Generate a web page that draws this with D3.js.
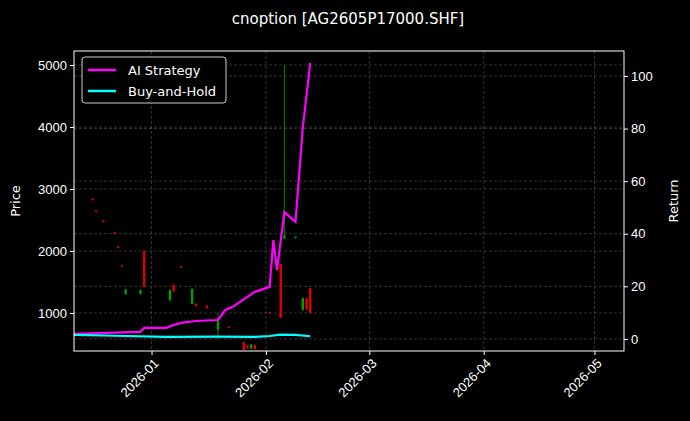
<!DOCTYPE html>
<html>
<head>
<meta charset="utf-8">
<script src="https://cdn.jsdelivr.net/npm/d3@7"></script>
<style>
  body { margin: 0; background: #000; }
  svg { font-family: "DejaVu Sans", sans-serif; }
</style>
</head>
<body>
<svg id="chart" width="690" height="421"></svg>
<script>
// candles: date, open, high, low, close
var candleDates = ["2025-12-16","2025-12-17","2025-12-19","2025-12-22","2025-12-23","2025-12-24","2025-12-25","2025-12-29","2025-12-30",
  "2026-01-06","2026-01-07","2026-01-09","2026-01-12","2026-01-13","2026-01-16","2026-01-19","2026-01-22","2026-01-26","2026-01-27",
  "2026-01-28","2026-01-29","2026-02-02","2026-02-05","2026-02-06","2026-02-09","2026-02-11","2026-02-12","2026-02-13"]
var opens  = [2840,2650,2490,2300,2070,1770,1310,1310,2000,1210,1450,1750,1145,1150,1120, 730, 780, 530, 480, 430, 480,1010,1790,2200,2210,1050,1240,1400]
var highs  = [2850,2660,2500,2310,2080,1780,1390,1380,2000,1380,1460,1760,1390,1160,1130,1010, 790, 540, 490, 500, 490,1020,1790,5000,2240,1240,1250,1400]
var lows   = [2810,2620,2460,2270,2040,1740,1290,1290,1420,1180,1340,1720,1140,1100,1070, 570, 750, 400, 420, 420, 410, 990, 920,2190,2200,1040,1050,1000]
var closes = [2820,2630,2470,2280,2050,1750,1380,1370,1420,1370,1350,1730,1390,1110,1080, 920, 760, 400, 440, 490, 420,1000, 920,2250,2230,1240,1060,1000]

// return lines
var stratDates = ["2025-12-11","2025-12-29","2025-12-30","2026-01-05","2026-01-07","2026-01-09","2026-01-13","2026-01-19","2026-01-21",
  "2026-01-23","2026-01-27","2026-01-29","2026-02-02","2026-02-03","2026-02-04","2026-02-06","2026-02-09","2026-02-11","2026-02-13"]
var stratValues = [1.9,2.7,4.2,4.2,5.3,6.1,6.8,7.2,11,12.2,16,17.9,19.8,37.6,26.2,48.3,44.5,80.6,105]
var bhDates = ["2025-12-11","2025-12-22","2026-01-05","2026-01-19","2026-01-29","2026-02-02","2026-02-05","2026-02-09","2026-02-13"]
var bhValues = [1.5,1.2,0.8,0.9,0.8,1.1,1.6,1.5,1.0]

var priceTicks = [1000,2000,3000,4000,5000]
var returnTicks = [0,20,40,60,80,100]

var margin = {top: 51, right: 66, bottom: 70, left: 74},
    width = 690 - margin.left - margin.right,
    height = 421 - margin.top - margin.bottom;

var parse = d3.timeParse("%Y-%m-%d");
var svg = d3.select("#chart");
svg.append("rect").attr("width", 690).attr("height", 421).attr("fill", "#000");
var g = svg.append("g").attr("transform", "translate(" + margin.left + "," + margin.top + ")");

var x = d3.scaleTime().domain([parse("2025-12-11"), parse("2026-05-09")]).range([0, width]);
var y = d3.scaleLinear().domain([387, 5226]).range([height, 0]);
var y2 = d3.scaleLinear().domain([-4.6, 109.5]).range([height, 0]);

var months = ["2026-01-01","2026-02-01","2026-03-01","2026-04-01","2026-05-01"].map(parse);

// grid
var gridStyle = function(sel) { sel.attr("stroke", "#555").attr("stroke-width", 0.6).attr("stroke-dasharray", "3,2"); };
g.append("g").selectAll("line").data(months).enter().append("line")
  .attr("x1", d => x(d)).attr("x2", d => x(d)).attr("y1", 0).attr("y2", height).call(gridStyle);
g.append("g").selectAll("line").data(priceTicks).enter().append("line")
  .attr("x1", 0).attr("x2", width).attr("y1", d => y(d)).attr("y2", d => y(d)).call(gridStyle);
g.append("g").selectAll("line").data(returnTicks).enter().append("line")
  .attr("x1", 0).attr("x2", width).attr("y1", d => y2(d)).attr("y2", d => y2(d)).call(gridStyle);

// candles
var candles = candleDates.map((d, i) => ({date: parse(d), o: opens[i], h: highs[i], l: lows[i], c: closes[i]}));
var colorOf = d => d.c >= d.o ? "#00a000" : "#e00000";
g.append("g").selectAll("line").data(candles).enter().append("line")
  .attr("x1", d => x(d.date)).attr("x2", d => x(d.date))
  .attr("y1", d => y(d.h)).attr("y2", d => y(d.l))
  .attr("stroke", colorOf).attr("stroke-width", 0.8);
g.append("g").selectAll("rect").data(candles).enter().append("rect")
  .attr("x", d => x(d.date) - 1.2).attr("width", 2.4)
  .attr("y", d => y(Math.max(d.o, d.c)))
  .attr("height", d => Math.max(1, Math.abs(y(d.o) - y(d.c))))
  .attr("fill", colorOf);

// lines
var line = d3.line().x(d => x(d[0])).y(d => y2(d[1]));
g.append("path").datum(stratDates.map((d, i) => [parse(d), stratValues[i]]))
  .attr("d", line).attr("fill", "none").attr("stroke", "#ff00ff").attr("stroke-width", 2.2);
g.append("path").datum(bhDates.map((d, i) => [parse(d), bhValues[i]]))
  .attr("d", line).attr("fill", "none").attr("stroke", "#00ffff").attr("stroke-width", 2.2);

// frame + axes
g.append("rect").attr("width", width).attr("height", height).attr("fill", "none").attr("stroke", "#fff").attr("stroke-width", 1);
var styleAxis = function(sel) {
  sel.select(".domain").remove();
  sel.selectAll("line").attr("stroke", "#fff");
  sel.selectAll("text").attr("fill", "#fff").style("font-size", "13px");
};
g.append("g").attr("transform", "translate(0," + height + ")")
  .call(d3.axisBottom(x).tickValues(months).tickFormat(d3.timeFormat("%Y-%m")).tickSize(4))
  .call(styleAxis)
  .selectAll("text").style("text-anchor", "end")
  .attr("dx", "-.3em").attr("dy", ".6em").attr("transform", "rotate(-45)");
g.append("g").call(d3.axisLeft(y).tickValues(priceTicks).tickFormat(d3.format("d")).tickSize(4)).call(styleAxis);
g.append("g").attr("transform", "translate(" + width + ",0)")
  .call(d3.axisRight(y2).tickValues(returnTicks).tickSize(4)).call(styleAxis);

// labels
svg.append("text").attr("x", 348).attr("y", 24).attr("text-anchor", "middle")
  .attr("fill", "#fff").style("font-size", "15px").text("cnoption [AG2605P17000.SHF]");
svg.append("text").attr("transform", "translate(20," + (margin.top + height / 2) + ") rotate(-90)")
  .attr("text-anchor", "middle").attr("fill", "#fff").style("font-size", "13px").text("Price");
svg.append("text").attr("transform", "translate(678," + (margin.top + height / 2) + ") rotate(-90)")
  .attr("text-anchor", "middle").attr("fill", "#fff").style("font-size", "13px").text("Return");

// legend
var lg = g.append("g").attr("transform", "translate(8,6)");
lg.append("rect").attr("width", 144).attr("height", 46).attr("rx", 3)
  .attr("fill", "#000").attr("stroke", "#ccc").attr("stroke-width", 1);
[["AI Strategy", "#ff00ff"], ["Buy-and-Hold", "#00ffff"]].forEach(function(d, i) {
  lg.append("line").attr("x1", 6).attr("x2", 34).attr("y1", 13 + i * 21).attr("y2", 13 + i * 21)
    .attr("stroke", d[1]).attr("stroke-width", 2.5);
  lg.append("text").attr("x", 46).attr("y", 18 + i * 21).attr("fill", "#fff")
    .style("font-size", "13px").text(d[0]);
});
</script>
</body>
</html>
